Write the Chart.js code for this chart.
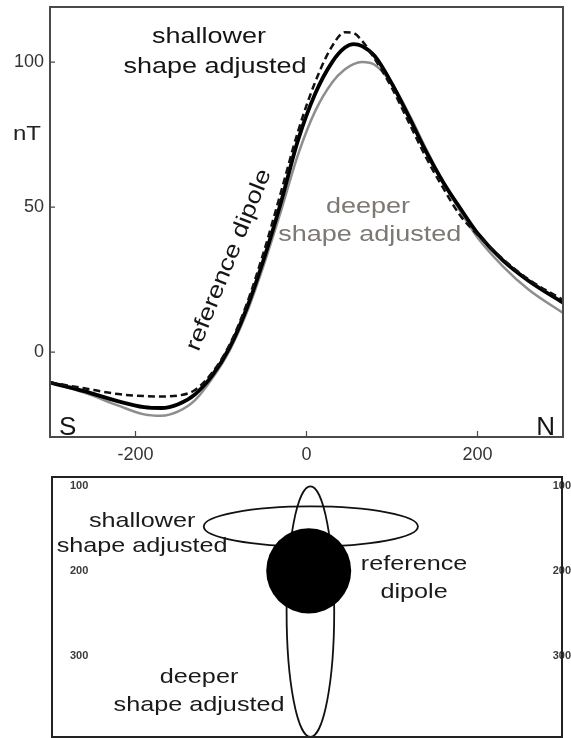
<!DOCTYPE html>
<html>
<head>
<meta charset="utf-8">
<script src="https://cdn.jsdelivr.net/npm/chart.js@4.4.1/dist/chart.umd.min.js"></script>
<style>
  html, body { margin: 0; padding: 0; background: #fff; }
  #wrap { position: relative; width: 571px; height: 738px; }
  #profile { position: absolute; left: 0; top: 0; }
  #section { position: absolute; left: 0; top: 470px; }
</style>
</head>
<body>
<div id="wrap">
  <canvas id="profile" width="571" height="470"></canvas>
  <canvas id="section" width="571" height="268"></canvas>
</div>
<script>
// profile along S-N line (m) and anomaly values (nT)
const distance = [-300, -260, -220, -190, -170, -150, -130, -110, -90, -70, -50, -30, -10, 10, 30, 45, 55, 65, 80, 100, 120, 140, 160, 180, 200, 230, 260, 300];
const refDipole = [-10.5, -13.5, -17, -19, -19.3, -18, -14.5, -8, 1.5, 15, 32, 51.5, 73, 89, 100, 105, 106.2, 105.5, 102, 92.5, 81, 69, 58.5, 49.5, 41, 31.5, 24.5, 17];
const shallowerAdj = [-10.5, -12.5, -14.5, -15.2, -15.3, -15, -13, -7, 2.5, 16.5, 34.5, 55, 76, 93, 105.5, 110.3, 110, 107.3, 101, 91, 79, 67, 56.5, 47, 40.5, 32, 25, 18];
const deeperAdj = [-10.5, -14, -18.5, -21.5, -22, -20.5, -16.5, -9, 0.5, 13.5, 30, 48.5, 68, 83, 93, 97.5, 99.3, 100, 99, 92.5, 82, 70, 58.5, 48.5, 39.5, 29.5, 21.5, 13.5];

const xTicks = [-200, 0, 200];
const nTTicks = [0, 50, 100];
const depthTicks = [100, 200, 300];

// source bodies in the cross-section (x, depth, half width, half height)
const bodyNames = ['shallower', 'deeper', 'reference'];
const bodyX = [4.5, 4, 2];
const bodyDepth = [148, 248, 200];
const bodyHalfW = [126, 28, 50];
const bodyHalfH = [23.5, 147, 50];
const bodyFilled = [false, false, true];

const FONT = "'Liberation Sans', Arial, Helvetica, sans-serif";

function toXY(ys) {
  return distance.map((x, i) => ({ x, y: ys[i] }));
}

// fixed axis thickness, no extra edge padding for labels
function fixAxis(size) {
  return s => {
    if (s.isHorizontal()) s.height = size; else s.width = size;
    s.paddingTop = 0; s.paddingBottom = 0;
    s.paddingLeft = 0; s.paddingRight = 0;
  };
}

function drawText(ctx, text, px, py, o) {
  ctx.save();
  ctx.translate(px, py);
  if (o.rotate) ctx.rotate(o.rotate * Math.PI / 180);
  ctx.scale(o.sx || 1, 1);
  ctx.font = (o.weight || 'normal') + ' ' + o.size + 'px ' + FONT;
  ctx.fillStyle = o.color || '#111';
  ctx.textAlign = o.align || 'center';
  ctx.textBaseline = o.baseline || 'alphabetic';
  ctx.fillText(text, 0, 0);
  ctx.restore();
}

// frame, inward tick marks and labels for the profile
const profileDecor = {
  id: 'profileDecor',
  afterDraw(chart) {
    const { ctx, chartArea: a, scales: { x, y } } = chart;
    ctx.save();
    ctx.strokeStyle = '#4a4a4a';
    ctx.lineWidth = 2;
    ctx.strokeRect(a.left, a.top, a.right - a.left, a.bottom - a.top);
    ctx.lineWidth = 1.2;
    ctx.beginPath();
    xTicks.forEach(v => {
      const px = x.getPixelForValue(v);
      ctx.moveTo(px, a.bottom); ctx.lineTo(px, a.bottom - 6);
    });
    nTTicks.forEach(v => {
      const py = y.getPixelForValue(v);
      ctx.moveTo(a.left, py); ctx.lineTo(a.left + 5, py);
    });
    ctx.stroke();
    ctx.restore();

    const P = (vx, vy) => [x.getPixelForValue(vx), y.getPixelForValue(vy)];
    const big = { size: 22.5, sx: 1.2, color: '#151515' };
    let p;
    p = P(-114, 106.6); drawText(ctx, 'shallower', p[0], p[1], big);
    p = P(-107, 96.2); drawText(ctx, 'shape adjusted', p[0], p[1], big);
    const grey = Object.assign({}, big, { color: '#7d7873' });
    p = P(72, 47.9); drawText(ctx, 'deeper', p[0], p[1], grey);
    p = P(74, 38.3); drawText(ctx, 'shape adjusted', p[0], p[1], grey);
    p = P(-90.6, 31.7);
    drawText(ctx, 'reference dipole', p[0], p[1], Object.assign({}, big, { rotate: -68, baseline: 'middle' }));
    p = P(-289.5, -29);
    drawText(ctx, 'S', p[0], p[1] - 1, { size: 26, color: '#151515', align: 'left' });
    p = P(290.6, -29);
    drawText(ctx, 'N', p[0], p[1] - 1, { size: 26, color: '#151515', align: 'right' });
    drawText(ctx, 'nT', a.left - 37, y.getPixelForValue(73.1), { size: 20, sx: 1.2, color: '#222', align: 'left' });
  }
};

new Chart(document.getElementById('profile'), {
  type: 'line',
  data: {
    datasets: [
      {
        label: 'shallower shape adjusted',
        data: toXY(shallowerAdj),
        borderColor: '#111',
        borderWidth: 2.5,
        borderDash: [7, 4],
        order: 0
      },
      {
        label: 'reference dipole',
        data: toXY(refDipole),
        borderColor: '#000',
        borderWidth: 3.8,
        order: 1
      },
      {
        label: 'deeper shape adjusted',
        data: toXY(deeperAdj),
        borderColor: '#8e8e8e',
        borderWidth: 2.5,
        order: 2
      }
    ]
  },
  options: {
    responsive: false,
    animation: false,
    devicePixelRatio: 1,
    elements: { point: { radius: 0 }, line: { cubicInterpolationMode: 'monotone' } },
    layout: { padding: { left: 0, right: 8, top: 7, bottom: 0 } },
    plugins: { legend: { display: false }, tooltip: { enabled: false } },
    scales: {
      x: {
        type: 'linear',
        min: -300,
        max: 300,
        afterBuildTicks: s => { s.ticks = xTicks.map(v => ({ value: v })); },
        afterFit: fixAxis(33),
        grid: { display: false, drawTicks: false },
        border: { display: false },
        ticks: { padding: 7, color: '#333', font: { family: FONT, size: 18 } }
      },
      y: {
        type: 'linear',
        min: -29.3,
        max: 119,
        afterBuildTicks: s => { s.ticks = nTTicks.map(v => ({ value: v })); },
        afterFit: fixAxis(50),
        grid: { display: false, drawTicks: false },
        border: { display: false },
        ticks: { padding: 6, color: '#333', font: { family: FONT, size: 18 } }
      }
    }
  },
  plugins: [profileDecor]
});

// cross-section with the three source bodies
const sectionDecor = {
  id: 'sectionDecor',
  afterDraw(chart) {
    const { ctx, chartArea: a, scales: { x, y } } = chart;
    ctx.save();
    ctx.beginPath();
    ctx.rect(a.left, a.top, a.right - a.left, a.bottom - a.top);
    ctx.clip();
    bodyNames.forEach((name, i) => {
      const cx = x.getPixelForValue(bodyX[i]);
      const cy = y.getPixelForValue(bodyDepth[i]);
      const rx = Math.abs(x.getPixelForValue(bodyX[i] + bodyHalfW[i]) - cx);
      const ry = Math.abs(y.getPixelForValue(bodyDepth[i] + bodyHalfH[i]) - cy);
      ctx.beginPath();
      ctx.ellipse(cx, cy, rx, ry, 0, 0, Math.PI * 2);
      if (bodyFilled[i]) {
        ctx.fillStyle = '#000';
        ctx.fill();
      } else {
        ctx.strokeStyle = '#111';
        ctx.lineWidth = 1.8;
        ctx.stroke();
      }
    });
    ctx.restore();

    ctx.save();
    ctx.strokeStyle = '#222';
    ctx.lineWidth = 2;
    ctx.strokeRect(a.left, a.top, a.right - a.left, a.bottom - a.top);
    ctx.restore();

    const P = (vx, vy) => [x.getPixelForValue(vx), y.getPixelForValue(vy)];
    const lab = { size: 21, sx: 1.2, color: '#1a1a1a' };
    let p;
    p = P(-194, 148.6); drawText(ctx, 'shallower', p[0], p[1], lab);
    p = P(-194, 178); drawText(ctx, 'shape adjusted', p[0], p[1], lab);
    p = P(-127, 331.6); drawText(ctx, 'deeper', p[0], p[1], lab);
    p = P(-127, 364.5); drawText(ctx, 'shape adjusted', p[0], p[1], lab);
    p = P(126, 199.1); drawText(ctx, 'reference', p[0], p[1], lab);
    p = P(126, 232); drawText(ctx, 'dipole', p[0], p[1], lab);
  }
};

const depthAxis = side => ({
  type: 'linear',
  position: side,
  reverse: true,
  min: 90,
  max: 395,
  afterBuildTicks: s => { s.ticks = depthTicks.map(v => ({ value: v })); },
  afterFit: fixAxis(0),
  grid: { display: false, drawTicks: false },
  border: { display: false },
  ticks: {
    mirror: true,
    padding: side === 'left' ? 18 : 9,
    color: '#3a3a3a',
    font: { family: FONT, size: 11, weight: 'bold' }
  }
});

new Chart(document.getElementById('section'), {
  type: 'scatter',
  data: { datasets: [] },
  options: {
    responsive: false,
    animation: false,
    devicePixelRatio: 1,
    layout: { padding: { left: 52, right: 9, top: 7, bottom: 1 } },
    plugins: { legend: { display: false }, tooltip: { enabled: false } },
    scales: {
      x: { type: 'linear', min: -300, max: 300, display: false },
      y: depthAxis('left'),
      y2: depthAxis('right')
    }
  },
  plugins: [sectionDecor]
});
</script>
</body>
</html>
